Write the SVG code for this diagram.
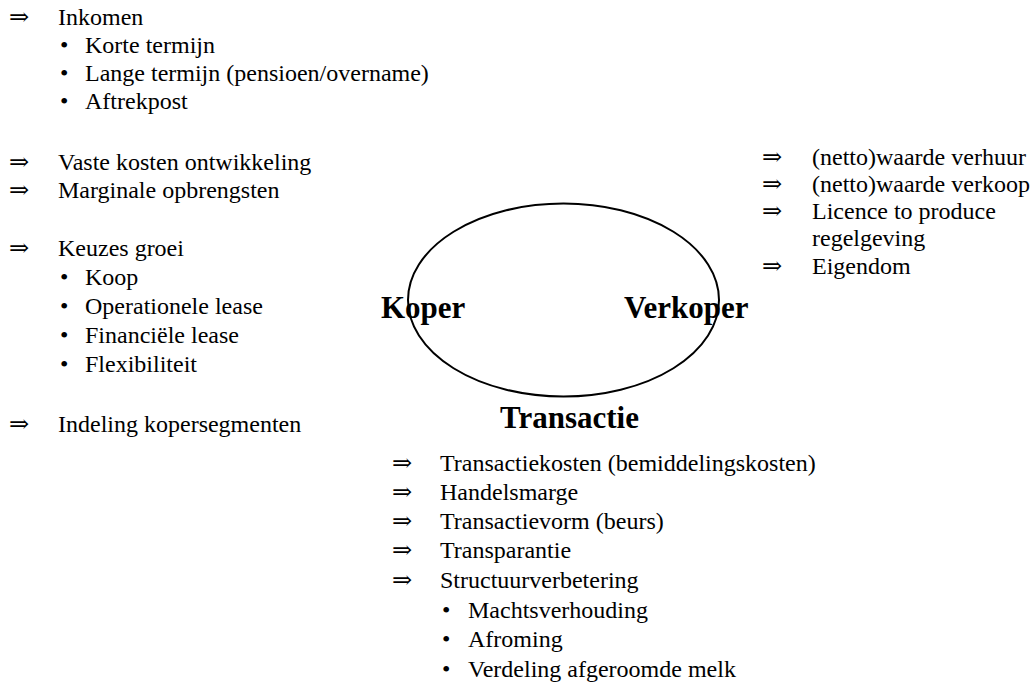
<svg xmlns="http://www.w3.org/2000/svg" width="1034" height="688" viewBox="0 0 1034 688">
<style>
text{font-family:"Liberation Serif","Times New Roman",serif;fill:#000;font-size:24px}
.a{font-family:"DejaVu Serif","DejaVu Sans",serif;font-size:24px}
.b{font-size:31px;font-weight:bold}
</style>
<rect width="1034" height="688" fill="#fff"/>
<g id="connectors">
<ellipse cx="563.5" cy="300" rx="155.5" ry="96.5" fill="none" stroke="#000" stroke-width="2"/>
</g>
<g id="koper-list">
<text class="a" x="9" y="25">⇒</text><text x="58" y="25">Inkomen</text>
<text x="60" y="53">•</text><text x="85" y="53">Korte termijn</text>
<text x="60" y="81">•</text><text x="85" y="81">Lange termijn (pensioen/overname)</text>
<text x="60" y="109">•</text><text x="85" y="109">Aftrekpost</text>
<text class="a" x="9" y="170">⇒</text><text x="58" y="170">Vaste kosten ontwikkeling</text>
<text class="a" x="9" y="198">⇒</text><text x="58" y="198">Marginale opbrengsten</text>
<text class="a" x="9" y="256">⇒</text><text x="58" y="256">Keuzes groei</text>
<text x="60" y="285">•</text><text x="85" y="285">Koop</text>
<text x="60" y="314">•</text><text x="85" y="314">Operationele lease</text>
<text x="60" y="343">•</text><text x="85" y="343">Financiële lease</text>
<text x="60" y="372">•</text><text x="85" y="372">Flexibiliteit</text>
<text class="a" x="9" y="432">⇒</text><text x="58" y="432">Indeling kopersegmenten</text>
</g>
<g id="koper"><text class="b" x="381" y="318">Koper</text></g>
<g id="verkoper"><text class="b" x="624" y="318">Verkoper</text></g>
<g id="transactie"><text class="b" x="500" y="428">Transactie</text></g>
<g id="verkoper-list">
<text class="a" x="762" y="165">⇒</text><text x="812" y="165">(netto)waarde verhuur</text>
<text class="a" x="762" y="192">⇒</text><text x="812" y="192">(netto)waarde verkoop</text>
<text class="a" x="762" y="219">⇒</text><text x="812" y="219">Licence to produce</text>
<text x="812" y="246">regelgeving</text>
<text class="a" x="762" y="274">⇒</text><text x="812" y="274">Eigendom</text>
</g>
<g id="transactie-list">
<text class="a" x="392" y="471">⇒</text><text x="440" y="471">Transactiekosten (bemiddelingskosten)</text>
<text class="a" x="392" y="500">⇒</text><text x="440" y="500">Handelsmarge</text>
<text class="a" x="392" y="529">⇒</text><text x="440" y="529">Transactievorm (beurs)</text>
<text class="a" x="392" y="558">⇒</text><text x="440" y="558">Transparantie</text>
<text class="a" x="392" y="588">⇒</text><text x="440" y="588">Structuurverbetering</text>
<text x="442" y="618">•</text><text x="468" y="618">Machtsverhouding</text>
<text x="442" y="647">•</text><text x="468" y="647">Afroming</text>
<text x="442" y="677">•</text><text x="468" y="677">Verdeling afgeroomde melk</text>
</g>
</svg>
